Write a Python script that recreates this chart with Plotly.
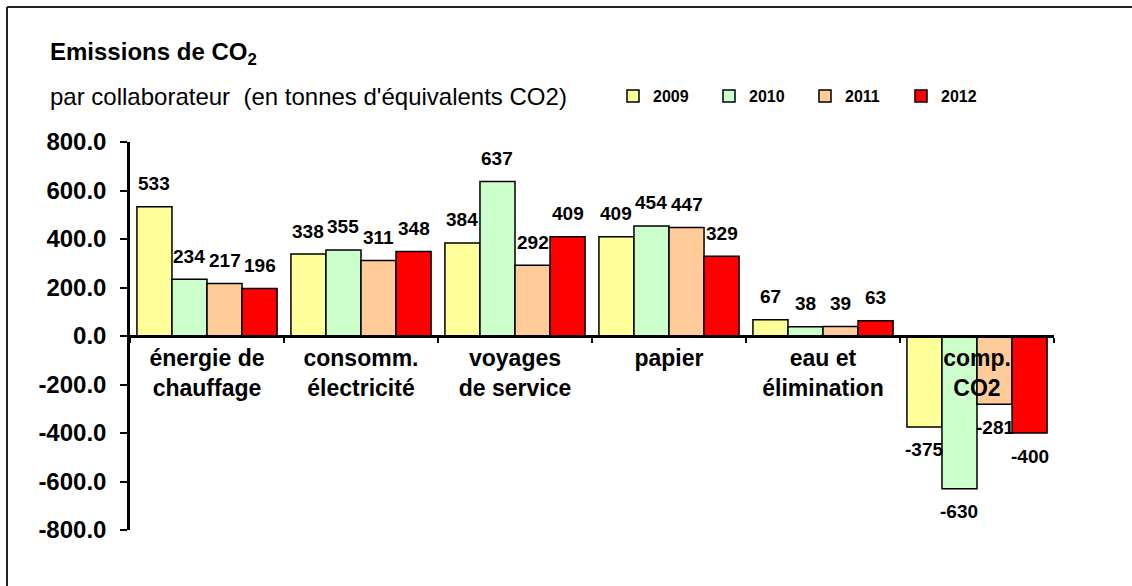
import plotly.graph_objects as go

# ---- data ----
categories = ["énergie de<br>chauffage", "consomm.<br>électricité", "voyages<br>de service",
              "papier", "eau et<br>élimination", "comp.<br>CO2"]
years = ["2009", "2010", "2011", "2012"]
v2009 = [533, 338, 384, 409, 67, -375]
v2010 = [234, 355, 637, 454, 38, -630]
v2011 = [217, 311, 292, 447, 39, -281]
v2012 = [196, 348, 409, 329, 63, -400]
y_tick_vals = [-800, -600, -400, -200, 0, 200, 400, 600, 800]
y_tick_text = [f"{v:.1f}" for v in y_tick_vals]

series = [v2009, v2010, v2011, v2012]
colors = ["#FFFF99", "#CCFFCC", "#FFCC99", "#FF0000"]

FONT = "Liberation Sans, Arial, sans-serif"
W, H = 1132, 586
ML, MR, MT, MB = 130, 78, 142, 56
PW, PH = W - ML - MR, H - MT - MB
BARGAP = 0.09


def px_x(px):
    return (px - ML) / PW


def px_y(py):
    return (H - MB - py) / PH


fig = go.Figure()
for name, vals, col in zip(years, series, colors):
    fig.add_trace(go.Bar(
        name=name, x=categories, y=vals,
        marker=dict(color=col, line=dict(color="black", width=1.5)),
    ))

# data labels
bw = (1 - BARGAP) / len(series)
annotations = []
for si, vals in enumerate(series):
    off = (si - (len(series) - 1) / 2) * bw
    for ci, v in enumerate(vals):
        annotations.append(dict(
            x=ci + off, y=v, xref="x", yref="y", text=f"<b>{v}</b>",
            showarrow=False, yanchor="middle", xanchor="center",
            yshift=23 if v >= 0 else -23,
            font=dict(family=FONT, size=19, color="black"),
        ))

annotations.append(dict(
    x=px_x(48), y=px_y(54), xref="paper", yref="paper", xanchor="left", yanchor="middle",
    text="<b>Emissions de CO<sub>2</sub></b>", showarrow=False,
    font=dict(family=FONT, size=24, color="black"),
))
annotations.append(dict(
    x=px_x(48), y=px_y(97), xref="paper", yref="paper", xanchor="left", yanchor="middle",
    text="par collaborateur  (en tonnes d'équivalents CO2)", showarrow=False,
    font=dict(family=FONT, size=24, color="black"),
))

# outer frame: only top and left edges are visible in the reference
frame_line = dict(color="#222222", width=2)
shapes = [
    dict(type="line", xref="paper", yref="paper",
         x0=px_x(7), y0=px_y(7), x1=px_x(W), y1=px_y(7), line=frame_line, layer="below"),
    dict(type="line", xref="paper", yref="paper",
         x0=px_x(7), y0=px_y(7), x1=px_x(7), y1=px_y(H), line=frame_line, layer="below"),
]

fig.update_layout(
    width=W, height=H,
    margin=dict(l=ML, r=MR, t=MT, b=MB, autoexpand=False),
    paper_bgcolor="white", plot_bgcolor="white",
    barmode="group", bargap=BARGAP, bargroupgap=0,
    font=dict(family=FONT, color="black"),
    annotations=annotations, shapes=shapes,
    showlegend=True,
    legend=dict(
        orientation="h", x=px_x(613), y=px_y(96), xanchor="left", yanchor="middle",
        font=dict(family=FONT, size=16, color="black", weight="bold"),
        entrywidth=51, entrywidthmode="pixels", itemwidth=30,
        bgcolor="rgba(0,0,0,0)", traceorder="normal",
    ),
    xaxis=dict(
        anchor="free", position=0.5, showline=True, linecolor="black", linewidth=3,
        ticks="outside", tickson="boundaries", ticklen=5, tickwidth=2, tickcolor="black",
        tickfont=dict(family=FONT, size=23, color="black", weight="bold"),
        showgrid=False, automargin=False, fixedrange=True,
    ),
    yaxis=dict(
        range=[-800, 800], tickvals=y_tick_vals, ticktext=y_tick_text,
        showline=True, linecolor="black", linewidth=2.5,
        ticks="outside", ticklen=7, tickwidth=2, tickcolor="black",
        ticklabelstandoff=9,
        tickfont=dict(family=FONT, size=24, color="black", weight="bold"),
        showgrid=False, zeroline=False, automargin=False,
    ),
)

fig.write_html(
    "out.html",
    config={"displayModeBar": False},
    post_script=(
        "document.documentElement.style.overflow='hidden';"
        "document.body.style.margin='0';document.body.style.overflow='hidden';"
    ),
)
